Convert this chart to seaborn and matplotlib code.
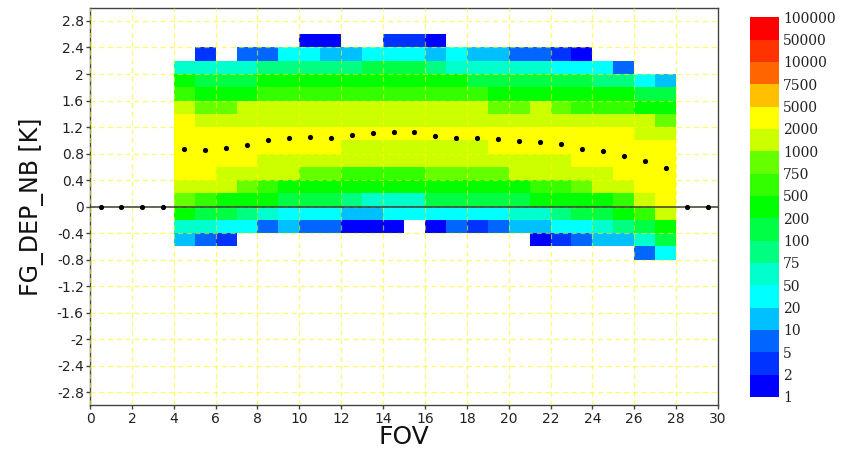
import numpy as np
import pandas as pd
import matplotlib
matplotlib.use("Agg")
import matplotlib.pyplot as plt
from matplotlib.colors import ListedColormap, BoundaryNorm
import seaborn as sns

# FOV columns that hold data (4..27), bin width 0.2 K
fov_cols = list(range(4, 28))

# counts per FG departure bin (lower edge in the name), FOV 4 -> 27, 0 = empty
row_2p4 = [0, 0, 0, 0, 0, 0, 1, 1, 0, 0, 3, 3, 1, 0, 0, 0, 0, 0, 0, 0, 0, 0, 0, 0]
row_2p2 = [0, 3, 0, 7, 7, 35, 35, 15, 15, 35, 35, 35, 15, 35, 15, 15, 7, 7, 3, 1, 0, 0, 0, 0]
row_2p0 = [60, 60, 60, 60, 85, 85, 85, 85, 85, 150, 150, 150, 85, 60, 60, 60, 60, 60, 35, 35, 35, 7, 0, 0]
row_1p8 = [350, 150, 150, 150, 350, 350, 350, 350, 350, 350, 350, 350, 350, 350, 150, 150, 150, 150, 150, 150, 85, 85, 35, 15]
row_1p6 = [600, 350, 350, 350, 600, 600, 600, 600, 600, 600, 600, 600, 600, 600, 600, 350, 350, 350, 350, 350, 350, 350, 150, 150]
row_1p4 = [1500, 850, 850, 1500, 1500, 1500, 1500, 1500, 1500, 1500, 1500, 1500, 1500, 1500, 1500, 850, 850, 1500, 850, 600, 600, 600, 350, 350]
row_1p2 = [3500] + [1500] * 22 + [850]
row_1p0 = [3500] * 22 + [1500, 1500]
row_0p8 = [3500] * 8 + [1500] * 7 + [3500] * 9
row_0p6 = [3500] * 4 + [1500] * 15 + [3500] * 5
row_0p4 = [3500, 3500, 1500, 1500, 1500, 1500, 850, 850, 600, 600, 600, 600, 850, 850, 850, 850, 1500, 1500, 1500, 1500, 1500, 3500, 3500, 3500]
row_0p2 = [1500, 1500, 1500, 850, 600, 350, 350, 350, 350, 350, 350, 350, 350, 350, 350, 350, 350, 600, 600, 850, 1500, 1500, 3500, 3500]
row_0p0 = [850, 600, 350, 350, 350, 150, 150, 150, 85, 60, 60, 60, 150, 150, 150, 150, 150, 350, 350, 350, 350, 600, 1500, 3500]
row_m0p2 = [350, 150, 150, 85, 60, 35, 35, 35, 15, 15, 35, 35, 35, 35, 35, 35, 60, 60, 85, 150, 150, 350, 600, 1500]
row_m0p4 = [60, 60, 35, 35, 7, 15, 7, 7, 1, 1, 1, 0, 1, 7, 3, 7, 15, 15, 35, 35, 60, 85, 150, 350]
row_m0p6 = [15, 7, 3, 0, 0, 0, 0, 0, 0, 0, 0, 0, 0, 0, 0, 0, 0, 1, 3, 7, 15, 15, 60, 150]
row_m0p8 = [0] * 22 + [7, 35]

bin_edges = [2.4, 2.2, 2.0, 1.8, 1.6, 1.4, 1.2, 1.0, 0.8, 0.6, 0.4, 0.2, 0.0, -0.2, -0.4, -0.6, -0.8]
rows = [row_2p4, row_2p2, row_2p0, row_1p8, row_1p6, row_1p4, row_1p2, row_1p0, row_0p8,
        row_0p6, row_0p4, row_0p2, row_0p0, row_m0p2, row_m0p4, row_m0p6, row_m0p8]

# mean FG departure per FOV (black dots)
mean_fov = [0.5, 1.5, 2.5, 3.5, 4.5, 5.5, 6.5, 7.5, 8.5, 9.5, 10.5, 11.5, 12.5, 13.5, 14.5, 15.5, 16.5,
            17.5, 18.5, 19.5, 20.5, 21.5, 22.5, 23.5, 24.5, 25.5, 26.5, 27.5, 28.5, 29.5]
mean_dep = [0.0, 0.0, 0.0, 0.0, 0.87, 0.86, 0.89, 0.93, 1.0, 1.03, 1.05, 1.04, 1.08, 1.11, 1.13, 1.12, 1.06,
            1.04, 1.04, 1.02, 0.99, 0.97, 0.94, 0.87, 0.84, 0.77, 0.68, 0.58, 0.0, 0.0]

levels = [1, 2, 5, 10, 20, 50, 75, 100, 200, 500, 750, 1000, 2000, 5000, 7500, 10000, 50000, 100000]
level_colors = ['#0000ff', '#0033ff', '#0066ff', '#00c0ff', '#00ffff', '#00ffcc', '#00ff80', '#00ff44',
                '#00ff00', '#33ff00', '#66ff00', '#ccff00', '#ffff00', '#ffc000', '#ff6600', '#ff3300', '#ff0000']

y_tick_vals = [2.8, 2.4, 2.0, 1.6, 1.2, 0.8, 0.4, 0.0, -0.4, -0.8, -1.2, -1.6, -2.0, -2.4, -2.8]
y_tick_labels = ['2.8', '2.4', '2', '1.6', '1.2', '0.8', '0.4', '0', '-0.4', '-0.8', '-1.2', '-1.6', '-2', '-2.4', '-2.8']
x_tick_vals = list(range(0, 31, 2))

# full grid: 30 bins of 0.2 K from 3.0 (top) to -3.0, FOV 0..29
y_top = 3.0
dy = 0.2
grid = np.full((30, 30), np.nan)
for edge, vals in zip(bin_edges, rows):
    r = int(round((y_top - dy - edge) / dy))
    for fov, v in zip(fov_cols, vals):
        if v > 0:
            grid[r, fov] = v
df = pd.DataFrame(grid, columns=range(30))

sns.set_style("white")
plt.rcParams['font.family'] = ['DejaVu Sans']

cmap = ListedColormap(level_colors)
norm = BoundaryNorm(levels, cmap.N)

fig = plt.figure(figsize=(8.47, 4.54), dpi=100)
ax = fig.add_axes([0.1063, 0.107, 0.7414, 0.876])
cax = fig.add_axes([0.8855, 0.1256, 0.0342, 0.8363])

sns.heatmap(df, ax=ax, cmap=cmap, norm=norm, cbar_ax=cax,
            cbar_kws={'ticks': levels}, xticklabels=False, yticklabels=False)

def ypos(v):
    return (y_top - np.asarray(v)) / dy

ax.axhline(ypos(0.0), color='#3a3a3a', lw=1.1, zorder=3)
sns.scatterplot(x=mean_fov, y=ypos(mean_dep), ax=ax, color='black', s=14, linewidth=0, zorder=4)

ax.set_xlim(0, 30)
ax.set_ylim(30, 0)
ax.set_xticks(x_tick_vals)
ax.set_xticklabels([str(v) for v in x_tick_vals])
ax.set_yticks(ypos(y_tick_vals))
ax.set_yticklabels(y_tick_labels)
ax.tick_params(axis='both', direction='out', length=3, width=1, color='#444444',
               labelsize=10, labelcolor='#222222', pad=1.5, left=True, bottom=True)
ax.set_axisbelow(False)
ax.grid(True, color='#ffff00', ls=(0, (4, 3)), lw=0.9, alpha=0.6)
for s in ax.spines.values():
    s.set_visible(True)
    s.set_color('#444444')
    s.set_linewidth(1)

ax.set_xlabel('FOV', fontsize=18, color='#111111', visible=True)
ax.set_ylabel('FG_DEP_NB [K]', fontsize=17, color='#111111', visible=True)
ax.xaxis.set_label_coords(0.5, -0.05)
ax.yaxis.set_label_coords(-0.073, 0.5)

cbar = ax.collections[0].colorbar
cbar.set_ticks(levels)
cbar.set_ticklabels([str(v) for v in levels])
cax.tick_params(length=0, pad=3, labelsize=10, labelcolor='#222222')
for lab in cax.get_yticklabels():
    lab.set_family('DejaVu Serif')

fig.savefig('out.png', dpi=100)
